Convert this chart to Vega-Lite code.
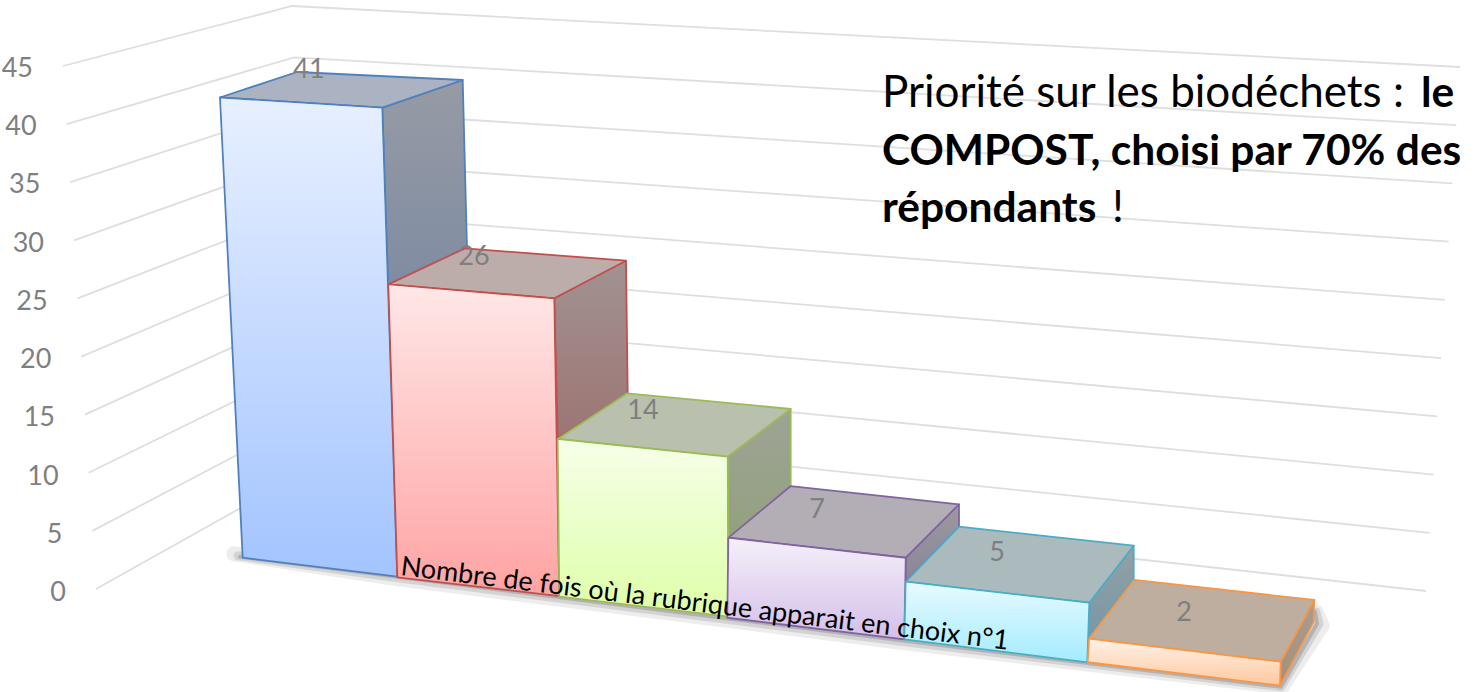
{
"$schema":"https://vega.github.io/schema/vega-lite/v6.json",
"width":1479,"height":692,"padding":0,"autosize":{"type":"none"},"background":"white",
"config":{"view":{"stroke":null},"text":{"font":"Lato"}},
"datasets":{
"barres":[{"rang":1,"valeur":41},{"rang":2,"valeur":26},{"rang":3,"valeur":14},{"rang":4,"valeur":7},{"rang":5,"valeur":5},{"rang":6,"valeur":2}],
"niveaux":[{"niveau":0},{"niveau":5},{"niveau":10},{"niveau":15},{"niveau":20},{"niveau":25},{"niveau":30},{"niveau":35},{"niveau":40},{"niveau":45}]
},
"resolve":{"scale":{"x":"independent","y":"independent","shape":"independent","fill":"independent","stroke":"independent"}},
"layer":[
{"data":{"name":"niveaux"},
 "mark":{"type":"point","filled":false,"opacity":1,"size":4,"stroke":"#dedede","strokeWidth":1.8},
 "encoding":{
  "x":{"field":"niveau","type":"quantitative","axis":null,"scale":{"domain":[0,45],"range":[96,63]}},
  "y":{"field":"niveau","type":"quantitative","axis":null,"scale":{"domain":[0,45],"range":[589,66]}},
  "shape":{"field":"niveau","type":"nominal","legend":null,"scale":{"domain":[0,5,10,15,20,25,30,35,40,45],"range":[
   "M0 0L216 -121L1330 2","M0 0L217.4 -114.2L1337.4 1.9","M0 0L218.9 -107.4L1344.9 1.8","M0 0L220.3 -100.7L1352.3 1.7","M0 0L221.8 -93.9L1359.8 1.6","M0 0L223.2 -87.1L1367.2 1.5","M0 0L224.7 -80.3L1374.7 1.3","M0 0L226.1 -73.5L1382.1 1.2","M0 0L227.6 -66.8L1389.6 1.1","M0 0L229 -60L1397 1"]}}
 }},
{"data":{"name":"niveaux"},
 "mark":{"type":"text","align":"right","baseline":"middle","fontSize":27,"color":"#7f7f7f"},
 "encoding":{
  "x":{"field":"niveau","type":"quantitative","axis":null,"scale":{"domain":[0,45],"range":[66,33]}},
  "y":{"field":"niveau","type":"quantitative","axis":null,"scale":{"domain":[0,45],"range":[593,69]}},
  "text":{"field":"niveau","type":"quantitative"}
 }},
{"data":{"name":"barres"},"transform":[{"filter":"datum.rang==6"}],
 "mark":{"type":"point","filled":false,"opacity":0.09,"size":4,"stroke":"#404040","strokeWidth":15,"strokeJoin":"round","strokeCap":"round"},
 "encoding":{
  "x":{"field":"rang","type":"quantitative","axis":null,"scale":{"domain":[1,6],"range":[300,1200]}},
  "y":{"field":"valeur","type":"quantitative","axis":null,"scale":{"domain":[0,45],"range":[589,66]}},
  "shape":{"field":"rang","type":"nominal","legend":null,"scale":{"domain":[6],"range":["M-966 -12L-802 13L-295 77L82 121L122 60L116 46"]}}
 }},
{"data":{"name":"barres"},"transform":[{"filter":"datum.rang==6"}],
 "mark":{"type":"point","filled":false,"opacity":0.14,"size":4,"stroke":"#404040","strokeWidth":9,"strokeJoin":"round","strokeCap":"round"},
 "encoding":{
  "x":{"field":"rang","type":"quantitative","axis":null,"scale":{"domain":[1,6],"range":[300,1200]}},
  "y":{"field":"valeur","type":"quantitative","axis":null,"scale":{"domain":[0,45],"range":[589,66]}},
  "shape":{"field":"rang","type":"nominal","legend":null,"scale":{"domain":[6],"range":["M-962 -10L-802 12L-295 76L81 121L119 58L116 46"]}}
 }},
{"data":{"name":"barres"},"transform":[{"filter":"datum.rang==6"}],
 "mark":{"type":"point","filled":false,"opacity":0.22,"size":4,"stroke":"#404040","strokeWidth":4,"strokeJoin":"round","strokeCap":"round"},
 "encoding":{
  "x":{"field":"rang","type":"quantitative","axis":null,"scale":{"domain":[1,6],"range":[300,1200]}},
  "y":{"field":"valeur","type":"quantitative","axis":null,"scale":{"domain":[0,45],"range":[589,66]}},
  "shape":{"field":"rang","type":"nominal","legend":null,"scale":{"domain":[6],"range":["M-960 -9L-802 11L-295 75L81 121L117 58L115 46"]}}
 }},
{"data":{"name":"barres"},
 "mark":{"type":"point","filled":true,"opacity":1,"size":4,"strokeWidth":1.8,"strokeJoin":"round"},
 "encoding":{
  "x":{"field":"rang","type":"quantitative","axis":null,"scale":{"domain":[1,6],"range":[300,1200]}},
  "y":{"field":"valeur","type":"quantitative","axis":null,"scale":{"domain":[0,45],"range":[589,66]}},
  "fill":{"field":"rang","type":"nominal","legend":null,"scale":{"domain":[1,2,3,4,5,6],"range":["#808ca3","#9c7674","#93a17f","#8c8696","#7898a6","#a88f78"]}},
  "stroke":{"field":"rang","type":"nominal","legend":null,"scale":{"domain":[1,2,3,4,5,6],"range":["#4f81bd","#c0504d","#9bbb59","#8064a2","#4bacc6","#f79646"]}},
  "shape":{"field":"rang","type":"nominal","legend":null,"scale":{"domain":[1,2,3,4,5,6],"range":[
   "M82.3 -4.8L162.7 -32.5L167 136.5L88 172.5Z","M74.3 11.5L146 -26.1L147.7 106.5L77.7 151.5Z","M67.7 30.4L130.7 -17.3L130.7 60.4L68.3 111Z","M65.7 50.1L119 -3.3L119 19.1L65.7 73.4Z","M69.3 71.8L113.7 14.8L113.7 48.4L69.3 107.4Z","M80.7 95.9L114.3 34.2L113.3 56.9L80 119.9Z"]}}
 }},
{"data":{"name":"barres"},
 "mark":{"type":"point","filled":true,"opacity":1,"size":4,"strokeWidth":0,
  "fill":{"gradient":"linear","x1":0,"y1":0,"x2":0,"y2":1,"stops":[{"offset":0,"color":"rgba(165,165,165,0.6)"},{"offset":1,"color":"rgba(165,165,165,0)"}]}},
 "encoding":{
  "x":{"field":"rang","type":"quantitative","axis":null,"scale":{"domain":[1,6],"range":[300,1200]}},
  "y":{"field":"valeur","type":"quantitative","axis":null,"scale":{"domain":[0,45],"range":[589,66]}},
  "shape":{"field":"rang","type":"nominal","legend":null,"scale":{"domain":[1,2,3,4,5,6],"range":[
   "M83.3 -4L161.7 -31L166 136L89 171.5Z","M75.3 12L145 -25L146.7 106L78.7 150.5Z","M68.7 30.4L129.7 -16L129.7 60L69.3 110Z","M66.7 50L118 -2.5L118 19L66.7 72.5Z","M70.3 72L112.7 16L112.7 48L70.3 106Z","M81.7 96L113.3 36L112.3 56.5L81 118Z"]}}
 }},
{"data":{"name":"barres"},
 "mark":{"type":"point","filled":true,"opacity":1,"size":4,"strokeWidth":1.8,"strokeJoin":"round"},
 "encoding":{
  "x":{"field":"rang","type":"quantitative","axis":null,"scale":{"domain":[1,6],"range":[300,1200]}},
  "y":{"field":"valeur","type":"quantitative","axis":null,"scale":{"domain":[0,45],"range":[589,66]}},
  "fill":{"field":"rang","type":"nominal","legend":null,"scale":{"domain":[1,2,3,4,5,6],"range":["#abb3c3","#bdadaa","#b9c0ae","#b3adb6","#abbabd","#bdaea0"]}},
  "stroke":{"field":"rang","type":"nominal","legend":null,"scale":{"domain":[1,2,3,4,5,6],"range":["#4f81bd","#c0504d","#9bbb59","#8064a2","#4bacc6","#f79646"]}},
  "shape":{"field":"rang","type":"nominal","legend":null,"scale":{"domain":[1,2,3,4,5,6],"range":[
   "M-80 -15L82.3 -4.8L162.7 -32.5L-3 -40.5Z","M-91.7 -2.5L74.3 11.5L146 -26.1L-15 -38.5Z","M-102.3 12.7L67.7 30.4L130.7 -17.3L-32.7 -33Z","M-111.7 30.1L65.7 50.1L119 -3.3L-49.3 -21.6Z","M-114.3 50.8L69.3 71.8L113.7 14.8L-61 -4.2Z","M-111 72.9L80.7 95.9L114.3 34.2L-66 14.2Z"]}}
 }},
{"data":{"name":"barres"},
 "mark":{"type":"point","filled":true,"opacity":1,"size":4,"strokeWidth":1.8,"strokeJoin":"round"},
 "encoding":{
  "x":{"field":"rang","type":"quantitative","axis":null,"scale":{"domain":[1,6],"range":[300,1200]}},
  "y":{"field":"valeur","type":"quantitative","axis":null,"scale":{"domain":[0,45],"range":[589,66]}},
  "fill":{"field":"rang","type":"nominal","legend":null,"scale":{"domain":[1,2,3,4,5,6],"range":["#a3c4ff","#ffa3a3","#deffa8","#d5c0ea","#a5ecff","#ffc9a0"]}},
  "stroke":{"field":"rang","type":"nominal","legend":null,"scale":{"domain":[1,2,3,4,5,6],"range":["#4f81bd","#c0504d","#9bbb59","#8064a2","#4bacc6","#f79646"]}},
  "shape":{"field":"rang","type":"nominal","legend":null,"scale":{"domain":[1,2,3,4,5,6],"range":[
   "M-80 -15L82.3 -4.8L97.3 464.2L-57.3 445.2Z","M-91.7 -2.5L74.3 11.5L79.3 309.2L-82.7 290.5Z","M-102.3 12.7L67.7 30.4L68.3 190.4L-100.7 170.4Z","M-111.7 30.1L65.7 50.1L64.3 131.7L-112.7 110.1Z","M-114.3 50.8L69.3 71.8L67.3 131.4L-115.7 108.4Z","M-111 72.9L80.7 95.9L80 119.9L-112.3 96.5Z"]}}
 }},
{"data":{"name":"barres"},
 "mark":{"type":"point","filled":true,"opacity":1,"size":4,"strokeWidth":0,
  "fill":{"gradient":"linear","x1":0,"y1":0,"x2":0,"y2":1,"stops":[{"offset":0,"color":"rgba(255,255,255,0.74)"},{"offset":1,"color":"rgba(255,255,255,0)"}]}},
 "encoding":{
  "x":{"field":"rang","type":"quantitative","axis":null,"scale":{"domain":[1,6],"range":[300,1200]}},
  "y":{"field":"valeur","type":"quantitative","axis":null,"scale":{"domain":[0,45],"range":[589,66]}},
  "shape":{"field":"rang","type":"nominal","legend":null,"scale":{"domain":[1,2,3,4,5,6],"range":[
   "M-79 -14L81.3 -4L96.3 463L-56.3 444.2Z","M-90.7 -1.5L73.3 12.5L78.3 308L-81.7 289.5Z","M-101.3 13.7L66.7 31.4L67.3 189.4L-99.7 169.4Z","M-110.7 31.1L64.7 51.1L63.3 130.7L-111.7 109.1Z","M-113.3 51.8L68.3 72.8L66.3 130.4L-114.7 107.4Z","M-110 73.9L79.7 96.9L79 118.9L-111.3 95.5Z"]}}
 }},
{"data":{"name":"barres"},
 "mark":{"type":"text","align":"center","baseline":"middle","fontSize":27,"color":"#7f7f7f"},
 "encoding":{
  "x":{"field":"rang","type":"quantitative","axis":null,"scale":{"domain":[1,2,3,4,5,6],"range":[309,474,643,817,997,1184]}},
  "y":{"field":"valeur","type":"quantitative","axis":null,"scale":{"domain":[2,5,7,14,26,41],"range":[613,553,510,411,257,70]}},
  "text":{"field":"valeur","type":"quantitative"}
 }},
{"data":{"values":[{"serie":"Nombre de fois où la rubrique apparait en choix n°1","n":1}]},
 "mark":{"type":"text","align":"left","baseline":"alphabetic","fontSize":27,"angle":7,"color":"#000000"},
 "encoding":{
  "x":{"field":"n","type":"quantitative","axis":null,"scale":{"domain":[0,1],"range":[0,400]}},
  "y":{"field":"n","type":"quantitative","axis":null,"scale":{"domain":[0,1],"range":[0,575]}},
  "text":{"field":"serie"}
 }},
{"data":{"values":[{"ligne":1,"texte":"Priorité sur les biodéchets :"},{"ligne":3,"texte":"!"}]},
 "mark":{"type":"text","align":"left","baseline":"alphabetic","fontSize":44,"color":"#000000"},
 "encoding":{
  "x":{"field":"ligne","type":"quantitative","axis":null,"scale":{"domain":[1,3],"range":[882,1112]}},
  "y":{"field":"ligne","type":"quantitative","axis":null,"scale":{"domain":[1,3],"range":[107,222]}},
  "text":{"field":"texte"}
 }},
{"data":{"values":[{"ligne":1,"texte":"le"},{"ligne":2,"texte":"COMPOST,  choisi par 70% des"},{"ligne":3,"texte":"répondants"}]},
 "mark":{"type":"text","align":"left","baseline":"alphabetic","fontSize":42.5,"fontWeight":"bold","color":"#000000"},
 "encoding":{
  "x":{"field":"ligne","type":"quantitative","axis":null,"scale":{"domain":[1,2,3],"range":[1421,882,882]}},
  "y":{"field":"ligne","type":"quantitative","axis":null,"scale":{"domain":[1,2,3],"range":[107,165,222]}},
  "text":{"field":"texte"}
 }}
]
}
